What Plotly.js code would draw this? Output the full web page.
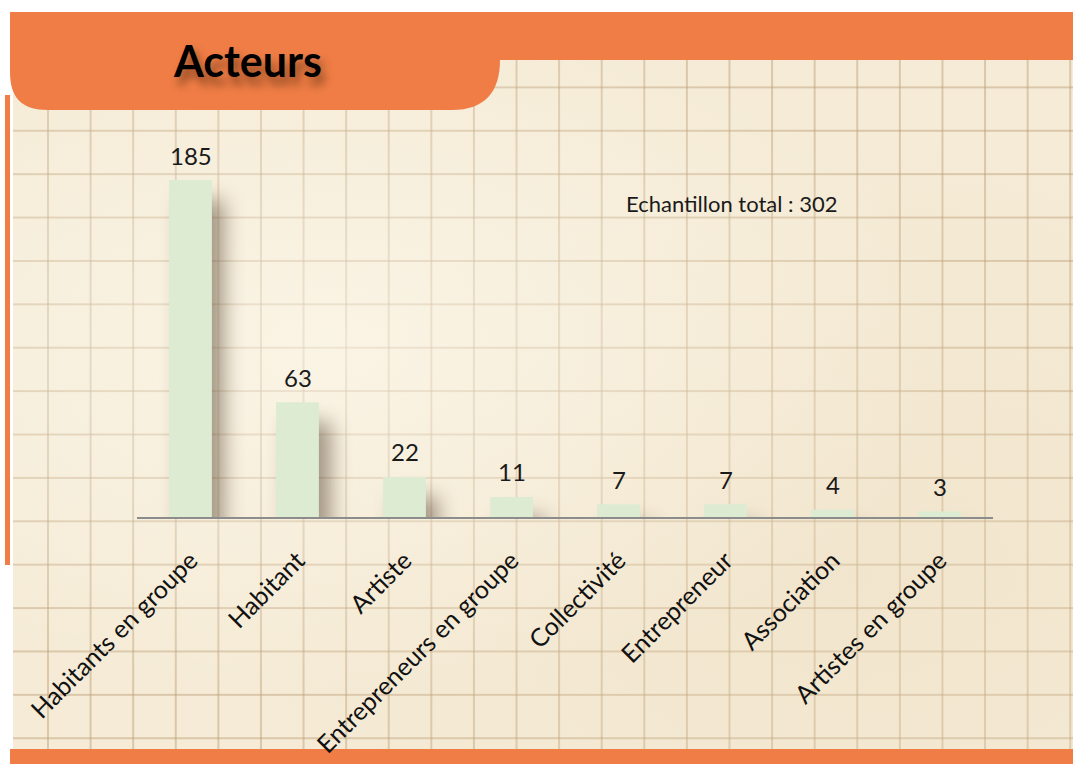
<!DOCTYPE html>
<html>
<head>
<meta charset="utf-8">
<script src="https://cdn.plot.ly/plotly-3.0.1.min.js"></script>
<style>
  html, body { margin:0; padding:0; background:#ffffff; }
  #wrap { position:relative; width:1073px; height:764px; overflow:hidden; background:#ffffff; }
  #paper {
    position:absolute; left:13px; top:12px; width:1060px; height:752px;
    background-color:#f5ebd6;
    background-image:
      radial-gradient(ellipse at 30% 45%, rgba(255,252,242,0.55), rgba(255,252,242,0) 60%),
      radial-gradient(ellipse at 80% 75%, rgba(235,218,188,0.35), rgba(235,218,188,0) 55%),
      linear-gradient(to right, rgba(185,155,115,0.45) 1.6px, transparent 1.6px),
      linear-gradient(to bottom, rgba(185,155,115,0.45) 1.6px, transparent 1.6px);
    background-size: 100% 100%, 100% 100%, 42.6px 100%, 100% 43.4px;
    background-position: 0 0, 0 0, 34px 0, 0 31px;
  }
  #chart { position:absolute; left:0; top:0; width:1073px; height:764px; }
  #chart .trace.bars .point path { filter: drop-shadow(12px 20px 10px rgba(60,40,20,0.45)); }
</style>
</head>
<body>
<div id="wrap">
  <div id="paper"></div>
  <div id="chart"></div>
</div>
<script>
// ---- data ----
const categories = ["Habitants en groupe", "Habitant", "Artiste", "Entrepreneurs en groupe",
                    "Collectivité", "Entrepreneur", "Association", "Artistes en groupe"];
const values = [185, 63, 22, 11, 7, 7, 4, 3];
const titleText = "Acteurs";
const sampleText = "Echantillon total : 302";

// ---- layout geometry (pixels) ----
const W = 1073, H = 764;
const L = 137, R = 993, T = 140, B = 517;
const xp = px => (px - L) / (R - L);
const yp = py => (B - py) / (B - T);
const P = (x, y) => xp(x).toFixed(5) + "," + yp(y).toFixed(5);

const orange = "#ef7d45";
const font = "Lato, 'Open Sans', sans-serif";

const tabPath = "M" + P(10,12) + " L" + P(1073,12) + " L" + P(1073,60) + " L" + P(500,60) +
  " C" + P(500,92) + " " + P(485,110) + " " + P(452,110) +
  " L" + P(48,110) + " C" + P(22,110) + " " + P(10,98) + " " + P(10,72) + " Z";

const shapes = [
  {type:"path", xref:"paper", yref:"paper", path: tabPath, fillcolor: orange, line:{width:0}, layer:"below"},
  {type:"rect", xref:"paper", yref:"paper", x0:xp(5), x1:xp(10), y0:yp(95), y1:yp(565), fillcolor: orange, line:{width:0}, layer:"below"},
  {type:"rect", xref:"paper", yref:"paper", x0:xp(10), x1:xp(1073), y0:yp(749), y1:yp(764), fillcolor: orange, line:{width:0}, layer:"below"}
];

const annotations = categories.map((c, i) => ({
  x: c, y: values[i], xref:"x", yref:"y", text: String(values[i]), showarrow:false,
  yanchor:"middle", yshift: 25, font:{family: font, size: 24, color:"#1a1a1a"}
}));
annotations.push({
  xref:"paper", yref:"paper", x: xp(624), y: yp(203), xanchor:"left", yanchor:"middle",
  text: sampleText, showarrow:false, font:{family: font, size: 22, color:"#1a1a1a"}
});

const trace = {
  type:"bar", x: categories, y: values,
  marker:{color:"#dcebd2", line:{width:0}},
  hoverinfo:"x+y"
};

const layout = {
  width: W, height: H,
  margin:{l:L, r:W-R, t:T, b:H-B, pad:0},
  paper_bgcolor:"rgba(0,0,0,0)", plot_bgcolor:"rgba(0,0,0,0)",
  bargap: 0.6,
  showlegend:false,
  title:{text: titleText, x: 248/W, xref:"container", xanchor:"center",
         y: 1 - 62/H, yref:"container", yanchor:"middle",
         font:{family: font, size: 43, weight: 700, color:"#000000",
               shadow:"4px 8px 8px rgba(60,30,10,0.55)"}},
  xaxis:{showgrid:false, zeroline:false, showline:true, linecolor:"#8c8c8c", linewidth:2,
         ticks:"", tickangle:-45, ticklabelstandoff: 17,
         tickfont:{family: font, size: 25, color:"#111111"}},
  yaxis:{range:[0, 207], visible:false, showgrid:false, zeroline:false, fixedrange:true},
  shapes: shapes,
  annotations: annotations
};

Plotly.newPlot("chart", [trace], layout, {displayModeBar:false, staticPlot:true});
</script>
</body>
</html>
